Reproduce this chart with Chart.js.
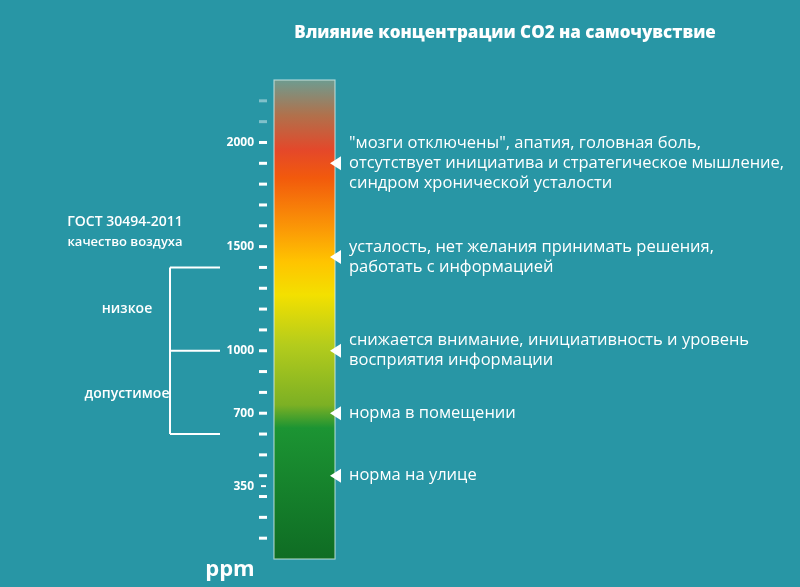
<!DOCTYPE html>
<html><head><meta charset="utf-8">
<script src="https://cdn.jsdelivr.net/npm/chart.js@4"></script>
<style>html,body{margin:0;padding:0;background:#2896a5;}#w{width:800px;height:587px;position:relative}</style>
</head><body><div id="w"><canvas id="c"></canvas></div>
<script>
const categories = ['CO2'];
const barRange = [0, 2300];
const minorTicks = [100,200,300,400,500,600,800,900,1100,1200,1300,1400,1600,1700,1800,1900,2100,2200];
const tickLabels = [2000,1500,1000,700,350];
const markerValues = [1900,1450,1000,700,400];
const markerTexts = [
 ['"мозги отключены", апатия, головная боль,','отсутствует инициатива и стратегическое мышление,','синдром хронической усталости'],
 ['усталость, нет желания принимать решения,','работать с информацией'],
 ['снижается внимание, инициативность и уровень','восприятия информации'],
 ['норма в помещении'],
 ['норма на улице']
];
const gostLevels = [1400,1000,600];
const gostNames = ['низкое','допустимое'];
const FONT = '"Open Sans", "DejaVu Sans", sans-serif';

const deco = {
 id:'deco',
 afterDatasetsDraw(chart){
  const ctx = chart.ctx, y = chart.scales.y, a = chart.chartArea;
  ctx.save();
  ctx.strokeStyle='rgba(220,240,235,0.7)'; ctx.lineWidth=1.2;
  ctx.strokeRect(a.left, y.getPixelForValue(barRange[1]), a.right-a.left, y.getPixelForValue(0)-y.getPixelForValue(barRange[1]));
  minorTicks.forEach(v=>{
    const py=y.getPixelForValue(v);
    ctx.fillStyle = v>2050 ? 'rgba(200,230,235,0.55)' : '#fff';
    ctx.fillRect(259,py-1.5,8,3);
  });
  ctx.font='bold 12px '+FONT; ctx.textAlign='right'; ctx.textBaseline='middle';
  tickLabels.forEach(v=>{
    const py=y.getPixelForValue(v);
    ctx.fillStyle='#fff';
    ctx.fillText(String(v), 254, py);
    if(v===350) ctx.fillRect(261,py-1,5,2); else ctx.fillRect(259,py-1.5,8,3);
  });
  ctx.font='16.5px '+FONT; ctx.textAlign='left';
  markerValues.forEach((v,i)=>{
    const py=y.getPixelForValue(v);
    ctx.fillStyle='#fff';
    ctx.beginPath(); ctx.moveTo(a.right+6,py-7); ctx.lineTo(a.right+6,py+7); ctx.lineTo(a.right-5,py); ctx.closePath(); ctx.fill();
    const lines=markerTexts[i]; const lh=20; const y0=py-(lines.length-1)*lh/2;
    lines.forEach((t,k)=>ctx.fillText(t,349,y0+k*lh));
  });
  ctx.strokeStyle='#fff'; ctx.lineWidth=2;
  const g=gostLevels.map(v=>y.getPixelForValue(v));
  ctx.beginPath();
  g.forEach(py=>{ctx.moveTo(170,py);ctx.lineTo(220,py);});
  ctx.moveTo(170,g[0]);ctx.lineTo(170,g[2]);
  ctx.stroke();
  ctx.font='600 14px '+FONT; ctx.textAlign='center'; ctx.fillStyle='#fff';
  ctx.fillText(gostNames[0],127,(g[0]+g[1])/2);
  ctx.fillText(gostNames[1],127,(g[1]+g[2])/2+2);
  ctx.fillText('ГОСТ 30494-2011',125,222);
  ctx.font='600 13px '+FONT;
  ctx.fillText('качество воздуха',125,242);
  ctx.font='bold 22px '+FONT; ctx.fillText('ppm',230,570);
  ctx.font='800 17px '+FONT; ctx.fillText('Влияние концентрации CO2 на самочувствие',505,33);
  ctx.restore();
 }
};

new Chart(document.getElementById('c'),{
 type:'bar',
 data:{labels:categories,datasets:[{data:[barRange],borderWidth:0,
  backgroundColor(c){
   const a=c.chart.chartArea; if(!a) return '#888';
   const y=c.chart.scales.y;
   const t=y.getPixelForValue(barRange[1]), b=y.getPixelForValue(0);
   const gr=c.chart.ctx.createLinearGradient(0,t,0,b);
   const s=(p,col)=>gr.addColorStop(Math.min(1,Math.max(0,(p-t)/(b-t))),col);
   s(80,'#6e9c90');s(115,'#b0714c');s(150,'#e4482a');s(178,'#f25a0c');
   s(230,'#fb9a06');s(262,'#ffc400');s(295,'#f3e000');s(345,'#b4cc1c');
   s(405,'#7cb024');s(428,'#1c9433');s(557,'#0f6d24');
   return gr;
  }}]},
 options:{responsive:true,maintainAspectRatio:false,animation:false,
  layout:{padding:{top:80,bottom:28,left:274,right:465}},
  plugins:{legend:{display:false},tooltip:{enabled:false}},
  scales:{x:{display:false},y:{display:false,min:0,max:2300}},
  datasets:{bar:{barPercentage:1,categoryPercentage:1}}
 },
 plugins:[deco]
});
</script></body></html>
